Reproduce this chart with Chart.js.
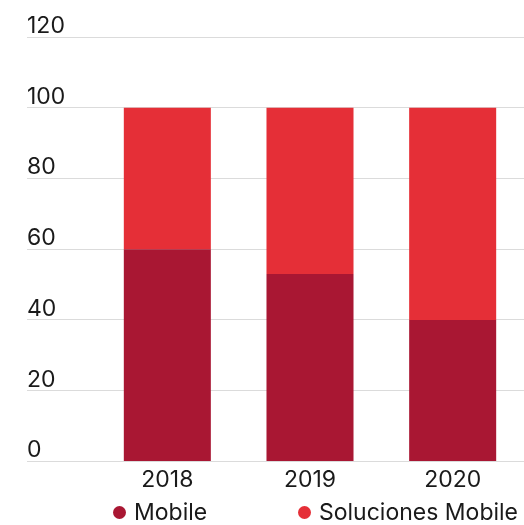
<!DOCTYPE html>
<html>
<head>
<meta charset="utf-8">
<script src="https://cdn.jsdelivr.net/npm/chart.js@4"></script>
<style>
  html, body { margin: 0; padding: 0; background: #fff; }
  .wrap { position: relative; width: 524px; height: 525px; }
  .legend { position: absolute; left: 113px; top: 498px; display: flex; align-items: center;
    font-family: Inter, "DejaVu Sans", sans-serif; font-size: 23px; color: #1a1a1a; line-height: 28px; }
  .legend .item { display: flex; align-items: center; }
  .legend .item:first-child { width: 185px; }
  .legend .dot { width: 13px; height: 13px; border-radius: 50%; margin-right: 8px; }
</style>
</head>
<body>
<div class="wrap">
  <canvas id="Mobile-Chart"></canvas>
  <div class="legend" id="legend"></div>
</div>
<script>
const years = ['2018', '2019', '2020'];
const mobile = [60, 53, 40];
const solucionesMobile = [40, 47, 60];
const yTicks = [0, 20, 40, 60, 80, 100, 120];

const font = 'Inter, "DejaVu Sans", sans-serif';
const gridColor = '#dbdbdb';

// stacked share chart
const ctx = document.getElementById('Mobile-Chart').getContext('2d');
const mobileChart = new Chart(ctx, {
  type: 'bar',
  data: {
    labels: years,
    datasets: [{
      label: 'Mobile',
      data: mobile,
      backgroundColor: '#a91733',
      barPercentage: 0.61,
      categoryPercentage: 1
    }, {
      label: 'Soluciones Mobile',
      data: solucionesMobile,
      backgroundColor: '#e52f37',
      barPercentage: 0.61,
      categoryPercentage: 1
    }]
  },
  options: {
    responsive: true,
    maintainAspectRatio: false,
    animation: false,
    layout: {
      padding: { top: 37, left: 27, right: 0, bottom: 34 }
    },
    scales: {
      x: {
        stacked: true,
        grid: { display: false },
        border: { display: false },
        ticks: {
          color: '#1a1a1a',
          padding: -3,
          font: { family: font, size: 23 }
        }
      },
      y: {
        stacked: true,
        min: 0,
        max: 120,
        afterFit: (scale) => { scale.width = 69; },
        afterBuildTicks: (scale) => { scale.ticks = yTicks.map(v => ({ value: v })); },
        border: { display: false },
        grid: {
          color: gridColor,
          tickColor: gridColor,
          tickLength: 69,
          lineWidth: 1
        },
        ticks: {
          crossAlign: 'far',
          labelOffset: -11,
          color: '#1a1a1a',
          font: { family: font, size: 23 }
        }
      }
    },
    plugins: {
      tooltip: { enabled: false },
      legend: { display: false }
    }
  }
});

// html legend built from the datasets
const legend = document.getElementById('legend');
mobileChart.data.datasets.forEach((ds) => {
  const item = document.createElement('div');
  item.className = 'item';
  const dot = document.createElement('span');
  dot.className = 'dot';
  dot.style.background = ds.backgroundColor;
  const text = document.createElement('span');
  text.textContent = ds.label;
  item.appendChild(dot);
  item.appendChild(text);
  legend.appendChild(item);
});
</script>
</body>
</html>
